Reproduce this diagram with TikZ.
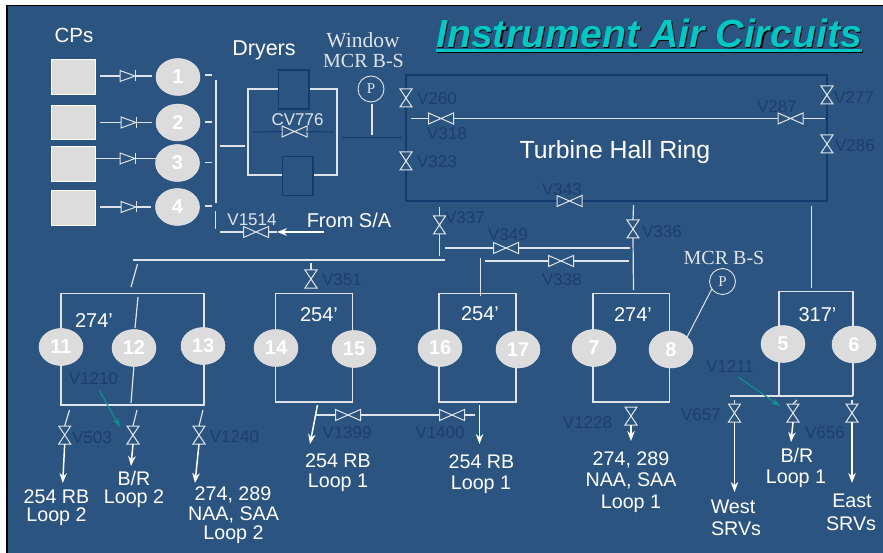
\documentclass[tikz,border=0pt]{standalone}
\usepackage{fontspec}
\setmainfont{Liberation Sans}
\newfontfamily\serifface{Liberation Serif}
\usetikzlibrary{shapes.geometric,arrows.meta}
\definecolor{bg}{HTML}{2C5480}
\definecolor{darkline}{HTML}{123C6E}
\definecolor{darktext}{HTML}{1A3F70}
\definecolor{pale}{HTML}{DFE4EA}
\definecolor{disc}{HTML}{DCDCDC}
\definecolor{teal1}{HTML}{12928F}
\definecolor{titlecol}{HTML}{00C8C4}
\tikzset{
 pipe/.style={draw=pale,line width=1.2pt},
 darkpipe/.style={draw=darkline,line width=1pt},
 flow/.style={draw=white,line width=1.5pt,-{Stealth[length=10pt,width=7.5pt]}},
 pointer/.style={draw=teal1,line width=1.1pt,-{Stealth[length=9pt,width=6pt]}},
 valveline/.style={draw=pale,line width=1pt,fill=bg},
 hv/.style={minimum width=25pt,minimum height=11pt,inner sep=0pt,outer sep=0pt},
 vv/.style={minimum width=12pt,minimum height=18pt,inner sep=0pt,outer sep=0pt},
 cv/.style={minimum width=15pt,minimum height=11pt,inner sep=0pt,outer sep=0pt},
 pump/.style={ellipse,fill=disc,draw=disc!70!white,line width=.5pt,minimum width=44pt,minimum height=37pt,inner sep=0pt,outer sep=0pt,text=white,font=\fontsize{20}{24}\selectfont\bfseries},
 cpbox/.style={rectangle,fill=disc,draw=white,line width=.8pt,minimum width=44pt,minimum height=34.5pt,inner sep=0pt},
 loopbox/.style={rectangle,draw=pale,line width=1.2pt,inner sep=0pt,outer sep=0pt},
 dryerbox/.style={rectangle,draw=darkline,line width=1.2pt,fill=bg,minimum width=30.5pt,minimum height=39pt,inner sep=0pt},
 gauge/.style={circle,draw=pale,line width=.9pt,minimum size=26pt,inner sep=0pt,outer sep=0pt,text=pale,font=\fontsize{15}{17}\selectfont\serifface},
 vlabel/.style={inner sep=0pt,yshift=-.7pt,text=darktext,font=\fontsize{17}{20}\selectfont},
 wlabel/.style={inner sep=0pt,yshift=-.5pt,text=white,font=\fontsize{19.7}{22}\selectfont},
 hlabel/.style={inner sep=0pt,yshift=-.7pt,text=white,font=\fontsize{21.5}{24}\selectfont},
 slabel/.style={inner sep=0pt,text=pale,font=\fontsize{20}{23}\selectfont\serifface},
 lab/.style={inner sep=0pt}
}
\newcommand\hval[2]{\node[hv] (#1) at (#2) {};\draw[valveline] (#1.north west)--(#1.south east)--(#1.north east)--(#1.south west)--cycle;}
\newcommand\vval[2]{\node[vv] (#1) at (#2) {};\draw[valveline] (#1.north west)--(#1.north east)--(#1.south west)--(#1.south east)--cycle;}
\newcommand\chk[2]{\node[cv] (#1) at (#2) {};\draw[valveline] (#1.north west)--(#1.east)--(#1.south west)--cycle;\draw[valveline] (#1.north east)--(#1.south east);}
\newcommand\pt[2]{\coordinate (#1) at (#2);}
\newcommand\seg[4][pipe]{\coordinate (#2a) at (#3);\coordinate (#2b) at (#4);\draw[#1] (#2a)--(#2b);}
\begin{document}
\begin{tikzpicture}[x=1pt,y=-1pt]
\useasboundingbox (0,0) rectangle (883,553);
\fill[white] (0,0) rectangle (883,553);
\fill[bg] (7,5.5) rectangle (883,553);
\draw[black,line width=1.3pt] (7,553)--(7,5.5)--(883,5.5);

% title
\node[lab,anchor=base west,text=black,font=\fontsize{39.3}{42}\selectfont\bfseries\itshape] (titleshadow) at (437.2,48.7) {Instrument Air Circuits};
\node[lab,anchor=base west,text=titlecol,font=\fontsize{39.3}{42}\selectfont\bfseries\itshape] (title) at (436,47.5) {Instrument Air Circuits};
\fill[black] (436.5,50.5) rectangle (863,53.5);
\fill[titlecol] (435.5,49.5) rectangle (862,52.2);

% CP column
\node[hlabel,font=\fontsize{20.5}{24}\selectfont] (cpslabel) at (74,35) {CPs};
\foreach \n/\yy/\h in {a/76.5/35,b/122.3/34.5,c/163.7/35,d/208/34.5}
  \node[cpbox,minimum height=\h pt] (cp\n) at (73.8,\yy) {};
\node[pump] (p1) at (178,77) {1};
\node[pump] (p2) at (178,122.5) {2};
\node[pump] (p3) at (177.5,163) {3};
\node[pump] (p4) at (177.5,207) {4};
\chk{c1}{127.5,76}\chk{c2}{128.5,122.5}\chk{c3}{127.5,158.5}\chk{c4}{128.5,207}
\pt{c1l}{100,76}\pt{c1r}{152,76}\draw[pipe] (c1l)--(c1.west) (c1.east)--(c1r);
\pt{c2l}{100,122.5}\pt{c2r}{152,122.5}\draw[pipe] (c2l)--(c2.west) (c2.east)--(c2r);
\pt{c3l}{96,158.5}\pt{c3r}{156,158.5}\draw[pipe] (c3l)--(c3.west) (c3.east)--(c3r);
\pt{c4l}{100,207}\pt{c4r}{151,207}\draw[pipe] (c4l)--(c4.west) (c4.east)--(c4r);
\seg{d1}{205,75}{212,75}\seg{d2}{205,122}{212,122}\seg{d3}{205,162.5}{212,162.5}\seg{d4}{205,206}{212,206}
\seg{hdr}{216,80}{216,203}
\seg{hdrb}{215.5,211}{215.5,229}
\seg{hdrout}{220,146}{245,146}

% dryers
\node[hlabel] (dryers) at (264,50) {Dryers};
\node[loopbox,minimum width=89pt,minimum height=86pt] (drybox) at (292.5,132) {};
\node[dryerbox] (dry1) at (293.7,89.5) {};
\node[dryerbox] (dry2) at (297.7,176) {};
\node[vlabel,text=pale] (cv776l) at (297.5,119) {CV776};
\hval{cv776}{294.5,131.5}
\pt{cvl}{253,132}\pt{cvr}{334,132}\draw[darkpipe] (cvl)--(cv776.west) (cv776.east)--(cvr);

% window gauge
\node[slabel,font=\fontsize{21.5}{24}\selectfont\serifface] (win) at (363,40) {Window};
\node[slabel] (mcr1) at (363.5,61) {MCR B-S};
\node[gauge] (g1) at (371,89) {P};
\pt{g1b}{372,135}\pt{g1t}{372,104}\draw[pipe] (g1t)--(g1b);
\seg[darkpipe]{dryout}{342,138}{402,138}

% ring
\node[rectangle,draw=darkline,line width=1.1pt,minimum width=421pt,minimum height=126pt,inner sep=0pt] (ring) at (616.5,138) {};
\node[lab,yshift=-1pt,text=white,font=\fontsize{24.8}{28}\selectfont] (ringl) at (615,151.5) {Turbine Hall Ring};
\vval{v260}{406,98}\vval{v323}{406,161}\vval{v277}{827,95}\vval{v286}{827,144}
\hval{v318}{441,118.5}\hval{v287}{790.5,118.5}\hval{v343}{569.5,201}
\pt{r318}{411,118.5}\pt{r287}{825,118.5}
\draw[pipe] (r318)--(v318.west) (v318.east)--(v287.west) (v287.east)--(r287);
\node[vlabel] (l260) at (437,98) {V260};
\node[vlabel] (l323) at (437,161) {V323};
\node[vlabel] (l318) at (447,133) {V318};
\node[vlabel] (l287) at (777,106) {V287};
\node[vlabel] (l277) at (854,97) {V277};
\node[vlabel] (l286) at (855,145) {V286};
\node[vlabel] (l343) at (562,189) {V343};

% from S/A
\node[vlabel,text=pale] (l1514) at (252,219) {V1514};
\node[hlabel,font=\fontsize{20}{23}\selectfont] (fromsa) at (349,220) {From S/A};
\hval{v1514}{256,232}
\pt{sal}{220,232}\pt{sar}{324,232}\pt{satip}{277,232}
\draw[pipe] (sal)--(v1514.west) (v1514.east)--(satip);
\draw[flow,line width=1.2pt] (sar)--(satip);

% middle distribution
\vval{v337}{439.5,225}\vval{v336}{633,229}
\pt{t337}{439.5,207}\pt{b337}{439.5,256}\draw[pipe] (t337)--(v337.north) (v337.south)--(b337);
\pt{t336}{633.5,205}\pt{b336}{633.5,290}\draw[pipe] (t336)--(v336.north) (v336.south)--(b336);
\seg{ringout}{811.5,206}{811.5,288}
\node[vlabel] (l337) at (465,217) {V337};
\node[vlabel] (l336) at (662,231) {V336};
\hval{v349}{506,248}\hval{v338}{561,261}
\pt{a349}{445,248}\pt{b349}{630,248}\draw[pipe] (a349)--(v349.west) (v349.east)--(b349);
\pt{a338}{484.5,261}\pt{b338}{629,261}\draw[pipe] (a338)--(v338.west) (v338.east)--(b338);
\seg{drop254}{480.5,258}{480.5,296}
\seg{west}{133,260}{445,260}
\seg{drop274a}{137.5,264}{131,287}
\node[vlabel] (l349) at (508,234) {V349};
\node[vlabel] (l338) at (562,279) {V338};
\vval{v351}{311,279}
\pt{t351}{311,263}\draw[pipe] (t351)--(v351.north);
\node[vlabel] (l351) at (342,279) {V351};

% boxes
\node[loopbox,minimum width=143pt,minimum height=111.5pt] (b1) at (132.5,349.2) {};
\node[loopbox,minimum width=77pt,minimum height=108.5pt] (b2) at (314,347.7) {};
\node[loopbox,minimum width=77pt,minimum height=108.5pt] (b3) at (477.5,347.7) {};
\node[loopbox,minimum width=76.5pt,minimum height=108.5pt] (b4) at (631.2,347.7) {};
\draw[pipe] (779,396)--(779,291.5)--(853,291.5)--(853,396);
\seg{b5bar}{730,396}{853,396}
\seg{in12}{138,297}{135,328}
\seg{out12}{134,365}{131,403}
\node[hlabel,font=\fontsize{20}{23}\selectfont] (h1) at (94,319.5) {274'};
\node[hlabel,font=\fontsize{20}{23}\selectfont] (h2) at (319,314) {254'};
\node[hlabel,font=\fontsize{20}{23}\selectfont] (h3) at (480,313) {254'};
\node[hlabel,font=\fontsize{20}{23}\selectfont] (h4) at (633,314) {274'};
\node[hlabel,font=\fontsize{20}{23}\selectfont] (h5) at (817.5,314) {317'};
\node[pump] (p11) at (61,347) {11};
\node[pump] (p12) at (134,348) {12};
\node[pump] (p13) at (203,346) {13};
\node[pump] (p14) at (276,348) {14};
\node[pump] (p15) at (354,349) {15};
\node[pump] (p16) at (440,348) {16};
\node[pump] (p17) at (518,349.5) {17};
\node[pump] (p7) at (594,348) {7};
\node[pump] (p8) at (671,349.5) {8};
\node[pump] (p5) at (783,344) {5};
\node[pump] (p6) at (854,344.5) {6};

% MCR B-S gauge
\node[slabel] (mcr2) at (724,258) {MCR B-S};
\node[gauge] (g2) at (722.5,281.5) {P};
\draw[pipe,line width=1pt] (g2.215)--(p8.38);

% left outlets
\node[vlabel] (l1210) at (93.5,378) {V1210};
\pt{ptr1a}{99,390}\pt{ptr1b}{120,427}\draw[pointer] (ptr1a)--(ptr1b);
\vval{v503}{64.7,435}\vval{v12}{133,435}\vval{v1240}{199,435}
\pt{t503}{69.5,410}\pt{e503}{62.7,483}\draw[pipe] (t503)--(v503.north);\draw[flow] (v503.south)--(e503);
\pt{t12}{137,410}\pt{e12}{131,466}\draw[pipe] (t12)--(v12.north);\draw[flow] (v12.south)--(e12);
\pt{t1240}{203,410}\pt{e1240}{195,483}\draw[pipe] (t1240)--(v1240.north);\draw[flow] (v1240.south)--(e1240);
\node[vlabel] (l503) at (92,437) {V503};
\node[vlabel] (l1240) at (234.5,435.5) {V1240};
\node[wlabel] (t1a) at (56.5,496) {254 RB};
\node[wlabel] (t1b) at (56.5,516) {Loop 2};
\node[wlabel] (t2a) at (134,478) {B/R};
\node[wlabel] (t2b) at (134,498) {Loop 2};
\node[wlabel] (t3a) at (233,494) {274, 289};
\node[wlabel] (t3b) at (233.5,514) {NAA, SAA};
\node[wlabel] (t3c) at (233.5,534) {Loop 2};

% 254 outlets
\pt{o1s}{317.5,405}\pt{o1e}{310,444}\draw[flow] (o1s)--(o1e);
\pt{o2s}{479.5,405}\pt{o2e}{479.5,444}\draw[flow] (o2s)--(o2e);
\hval{v1399}{348,415}\hval{v1400}{452,415}
\pt{x1}{316,415}\pt{x2}{475,415}\draw[pipe] (x1)--(v1399.west) (v1399.east)--(v1400.west) (v1400.east)--(x2);
\node[vlabel] (l1399) at (347,432) {V1399};
\node[vlabel] (l1400) at (440,432) {V1400};
\node[wlabel] (t4a) at (338,460) {254 RB};
\node[wlabel] (t4b) at (338,482) {Loop 1};
\node[wlabel] (t5a) at (481.5,461.5) {254 RB};
\node[wlabel] (t5b) at (481,484) {Loop 1};

% 274 outlet
\vval{v1228}{631,416}
\pt{e1228}{631,441}\draw[flow] (v1228.south)--(e1228);
\node[vlabel] (l1228) at (587.5,422) {V1228};
\node[wlabel] (t6a) at (631,459) {274, 289};
\node[wlabel] (t6b) at (631,480) {NAA, SAA};
\node[wlabel] (t6c) at (631,503) {Loop 1};

% 317 outlets
\node[vlabel] (l1211) at (730,366) {V1211};
\pt{ptr2a}{738,377}\pt{ptr2b}{780,406}\draw[pointer] (ptr2a)--(ptr2b);
\vval{v657}{734.5,413}\vval{v656}{793,413}\vval{v6e}{852,413}
\pt{t657}{734.5,400}\pt{e657}{734.5,492}\draw[pipe] (t657)--(v657.north);\draw[flow] (v657.south)--(e657);
\pt{t656}{797,400}\pt{e656}{791,442}\draw[pipe] (t656)--(v656.north);\draw[flow] (v656.south)--(e656);
\pt{t6e}{852,400}\pt{e6e}{852,483}\draw[pipe] (t6e)--(v6e.north);\draw[flow] (v6e.south)--(e6e);
\node[vlabel] (l657) at (701,414) {V657};
\node[vlabel] (l656) at (825,432) {V656};
\node[wlabel] (t7a) at (733,506) {West};
\node[wlabel] (t7b) at (736,528) {SRVs};
\node[wlabel] (t8a) at (797,455) {B/R};
\node[wlabel] (t8b) at (796,478) {Loop 1};
\node[wlabel] (t9a) at (852,500) {East};
\node[wlabel] (t9b) at (851,523) {SRVs};
\end{tikzpicture}
\end{document}
